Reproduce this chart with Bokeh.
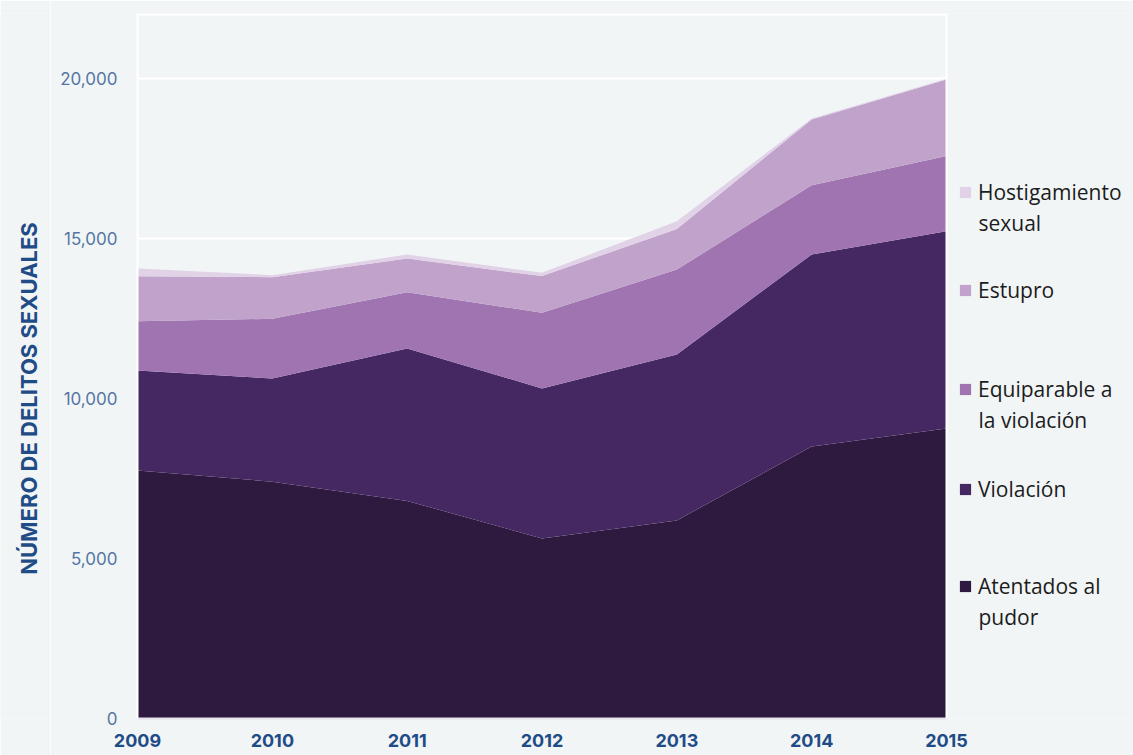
import math
from bokeh.plotting import figure
from bokeh.layouts import row
from bokeh.models import (ColumnDataSource, Range1d, NumeralTickFormatter, FixedTicker,
                          Legend, LegendItem, Label, Span, BoxAnnotation, Grid)
from bokeh.embed import file_html
from bokeh.resources import INLINE

years = [2009, 2010, 2011, 2012, 2013, 2014, 2015]
atentados = [7750, 7400, 6800, 5625, 6190, 8500, 9060]
violacion = [3125, 3225, 4760, 4690, 5185, 6000, 6170]
equiparable = [1540, 1865, 1760, 2365, 2655, 2165, 2350]
estupro = [1405, 1300, 1055, 1145, 1270, 2055, 2390]
hostigamiento = [240, 65, 125, 105, 240, 30, 20]

series = ["atentados", "violacion", "equiparable", "estupro", "hostigamiento"]
# legend labels: first line shown beside the swatch, second line (if any) below it
label_l1 = ["Atentados al", "Violación", "Equiparable a", "Estupro", "Hostigamiento"]
label_l2 = ["pudor", "", "la violación", "", "sexual"]
colors = ["#2f1a3f", "#452862", "#a074b0", "#c0a2cb", "#e1d2e7"]
y_ticks = [0, 5000, 10000, 15000, 20000]
y_title = "NÚMERO DE DELITOS SEXUALES"

src = ColumnDataSource(dict(year=years, atentados=atentados, violacion=violacion,
                            equiparable=equiparable, estupro=estupro,
                            hostigamiento=hostigamiento))

BG = "#f1f5f6"
H = 755
TOP, BOTTOM = 13, 37
FRAME_H = H - TOP - BOTTOM          # 705 px
PX_PER_UNIT = 640 / 20000           # 20,000 spans 640 px
yr = Range1d(0, FRAME_H / PX_PER_UNIT)

TITLE_W = 50
LEFT = 137
PLOT_W = 809                        # 2009 -> 2015
FRAME_W = 1133 - LEFT               # frame runs to the right edge (legend lives inside)
xr = Range1d(years[0], years[0] + (years[-1] - years[0]) * FRAME_W / PLOT_W)

# --- left strip with the rotated axis title ---
pt = figure(width=TITLE_W, height=H, output_backend="svg", toolbar_location=None,
            x_range=Range1d(0, TITLE_W), y_range=yr, x_axis_location=None, y_axis_location=None,
            min_border_left=0, min_border_right=0, min_border_top=TOP, min_border_bottom=BOTTOM,
            background_fill_color=BG, border_fill_color=BG, outline_line_color=None)
pt.grid.visible = False
pt.add_layout(Label(x=28, y=10000, text=y_title, angle=math.pi / 2,
                    text_align="center", text_baseline="middle",
                    text_font="Inter", text_font_style="bold", text_font_size="22px",
                    text_color="#1f4c86"))

# --- main chart ---
p = figure(width=1133 - TITLE_W, height=H, output_backend="svg", toolbar_location=None,
           x_range=xr, y_range=yr,
           min_border_left=LEFT - TITLE_W, min_border_right=0,
           min_border_top=TOP, min_border_bottom=BOTTOM,
           background_fill_color=BG, border_fill_color=BG, outline_line_color=None)

rs = p.varea_stack(stackers=series, x="year", color=colors, source=src)

p.xgrid.grid_line_color = None
p.ygrid.grid_line_color = "white"
p.ygrid.grid_line_width = 2
p.ygrid.ticker = FixedTicker(ticks=y_ticks + [22000])
ygrid = p.ygrid[0]
if "cross_bounds" in ygrid.properties():
    ygrid.cross_bounds = (years[0], years[-1])
else:
    p.add_layout(BoxAnnotation(left=years[-1], fill_color=BG, fill_alpha=1,
                               line_color=None, level="glyph"))
p.add_layout(Span(location=years[-1], dimension="height", line_color="white", line_width=2))

p.yaxis.ticker = FixedTicker(ticks=y_ticks)
p.yaxis.formatter = NumeralTickFormatter(format="0,0")
p.yaxis.axis_line_color = "white"
p.yaxis.axis_line_width = 2
p.yaxis.major_tick_line_color = None
p.yaxis.minor_tick_line_color = None
p.yaxis.major_tick_out = 0
p.yaxis.minor_tick_out = 0
p.yaxis.major_label_standoff = 20
p.yaxis.major_label_text_font = "Inter"
p.yaxis.major_label_text_font_size = "17px"
p.yaxis.major_label_text_color = "#5675a3"

p.xaxis.ticker = FixedTicker(ticks=years)
p.xaxis.bounds = (years[0], years[-1])
p.xaxis.axis_line_color = "#e8e4ee"
p.xaxis.axis_line_width = 2
p.xaxis.major_tick_line_color = None
p.xaxis.minor_tick_line_color = None
p.xaxis.major_tick_out = 0
p.xaxis.minor_tick_out = 0
p.xaxis.major_label_standoff = 15
p.xaxis.major_label_text_font = "Inter"
p.xaxis.major_label_text_font_style = "bold"
p.xaxis.major_label_text_font_size = "18px"
p.xaxis.major_label_text_color = "#1f4c86"

# --- legend (inside the frame, to the right of 2015) ---
FRAME_BOTTOM = TOP + FRAME_H
centers = [586, 489, 389, 290, 192]     # first-line centres, px from top
LEG_X = 958 - LEFT
for r, l1, l2, c in zip(rs, label_l1, label_l2, centers):
    lg = Legend(items=[LegendItem(label=l1, renderers=[r])],
                location=(LEG_X, FRAME_BOTTOM - (c + 15)),
                padding=0, margin=0, spacing=0, border_line_color=None, background_fill_alpha=0,
                glyph_width=14, glyph_height=14, label_standoff=6, label_height=30,
                label_text_font="Open Sans", label_text_font_size="21px",
                label_text_color="#1c1c1c")
    p.add_layout(lg, "center")
    if l2:
        p.add_layout(Label(x=LEG_X + 20, y=FRAME_BOTTOM - (c + 30), x_units="screen",
                           y_units="screen", text=l2, text_baseline="middle",
                           text_font="Open Sans", text_font_size="21px",
                           text_color="#1c1c1c"))

layout = row(pt, p, spacing=0)
open("out.html", "w").write(file_html(layout, INLINE))
